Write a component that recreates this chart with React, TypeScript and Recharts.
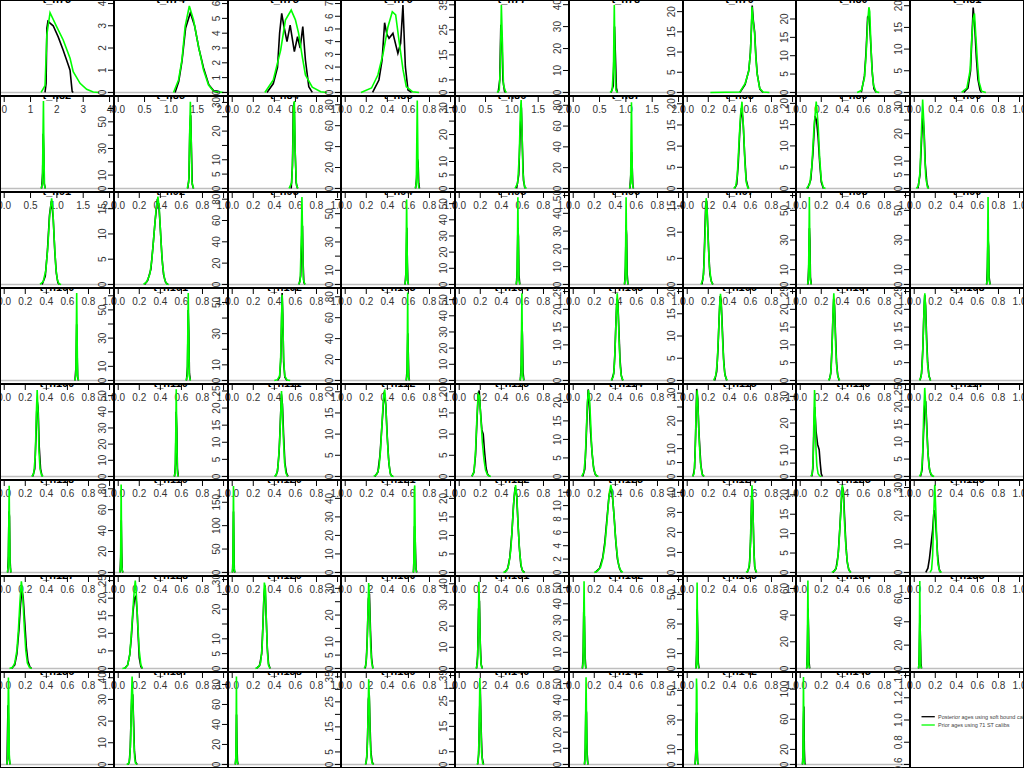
import React from 'react';
import { LineChart, Line, XAxis, YAxis, ReferenceLine } from 'recharts';

// grid of 8 x 9 density panels, each 1024/9 x 96 px
const COLS = 9;
const CELL_W = 1024 / 9;
const CELL_H = 96;
const AXIS_W = 22;
const AXIS_H = 26;
const FONT = '"Liberation Sans", Arial, Helvetica, sans-serif';
const GAP = 4.5;

const panelNames = [
  't_n73', 't_n74', 't_n75', 't_n76', 't_n77', 't_n78', 't_n79', 't_n80', 't_n81',
  't_n82', 't_n83', 't_n84', 't_n85', 't_n86', 't_n87', 't_n88', 't_n89', 't_n90',
  't_n91', 't_n92', 't_n93', 't_n94', 't_n95', 't_n96', 't_n97', 't_n98', 't_n99',
  't_n100', 't_n101', 't_n102', 't_n103', 't_n104', 't_n105', 't_n106', 't_n107', 't_n108',
  't_n109', 't_n110', 't_n111', 't_n112', 't_n113', 't_n114', 't_n115', 't_n116', 't_n117',
  't_n118', 't_n119', 't_n120', 't_n121', 't_n122', 't_n123', 't_n124', 't_n125', 't_n126',
  't_n127', 't_n128', 't_n129', 't_n130', 't_n131', 't_n132', 't_n133', 't_n134', 't_n135',
  't_n136', 't_n137', 't_n138', 't_n139', 't_n140', 't_n141', 't_n142', 't_n143',
];

// upper x limit of each panel (lower is 0)
const xUpper = [
  4, 2, 1, 1, 2, 2, 1, 1, 1,
  2, 1, 1, 1, 1, 1, 1, 1, 1,
  1, 1, 1, 1, 1, 1, 1, 1, 1,
  1, 1, 1, 1, 1, 1, 1, 1, 1,
  1, 1, 1, 1, 1, 1, 1, 1, 1,
  1, 1, 1, 1, 1, 1, 1, 1, 1,
  1, 1, 1, 1, 1, 1, 1, 1, 1,
  1, 1, 1, 1, 1, 1, 1, 1,
];

// upper y limit of each panel (lower is 0)
const yUpper = [
  4, 4, 6, 7, 35.5, 40.5, 22, 24.2, 20.5,
  57, 66.7, 31, 85, 33, 85.5, 21, 20.9, 32.5,
  16, 17.6, 83.4, 62.8, 55, 50, 17, 60, 60,
  60, 63, 57, 85, 55, 25, 20, 25, 25,
  35, 55, 26, 21, 21, 24, 32, 33.3, 25.6,
  80, 85, 190, 48, 24, 13.3, 44.4, 22.9, 31.4,
  25, 25.3, 30, 33.3, 42, 55, 60, 66.7, 76.2,
  45, 41, 88.9, 35.5, 35, 55, 60, 118,
];

const yTicks = [
  [0, 1, 2, 3, 4], [0, 1, 2, 3, 4], [0, 1, 2, 3, 4, 5, 6], [0, 1, 2, 3, 4, 5, 6, 7],
  [0, 5, 10, 15, 20, 25, 30, 35], [0, 10, 20, 30, 40], [0, 5, 10, 15, 20], [0, 5, 10, 15, 20], [0, 5, 10, 15, 20],
  [0, 10, 20, 30, 40, 50], [0, 10, 20, 30, 40, 50, 60], [0, 5, 10, 15, 20, 25, 30], [0, 20, 40, 60, 80],
  [0, 5, 10, 15, 20, 25, 30], [0, 20, 40, 60, 80], [0, 5, 10, 15, 20], [0, 5, 10, 15, 20], [0, 5, 10, 15, 20, 25, 30],
  [0, 5, 10, 15], [0, 5, 10, 15], [0, 20, 40, 60, 80], [0, 10, 20, 30, 40, 50, 60], [0, 10, 20, 30, 40, 50],
  [0, 10, 20, 30, 40, 50], [0, 5, 10, 15], [0, 10, 20, 30, 40, 50, 60], [0, 10, 20, 30, 40, 50, 60],
  [0, 10, 20, 30, 40, 50, 60], [0, 10, 20, 30, 40, 50, 60], [0, 10, 20, 30, 40, 50], [0, 20, 40, 60, 80],
  [0, 10, 20, 30, 40, 50], [0, 5, 10, 15, 20, 25], [0, 5, 10, 15, 20], [0, 5, 10, 15, 20, 25], [0, 5, 10, 15, 20, 25],
  [0, 5, 10, 15, 20, 25, 30, 35], [0, 10, 20, 30, 40, 50], [0, 5, 10, 15, 20, 25], [0, 5, 10, 15, 20],
  [0, 5, 10, 15, 20], [0, 5, 10, 15, 20], [0, 5, 10, 15, 20, 25, 30], [0, 5, 10, 15, 20, 25, 30], [0, 5, 10, 15, 20, 25],
  [0, 20, 40, 60, 80], [0, 20, 40, 60, 80], [0, 50, 100, 150], [0, 10, 20, 30, 40], [0, 5, 10, 15, 20],
  [0, 2, 4, 6, 8, 10, 12], [0, 10, 20, 30, 40], [0, 5, 10, 15, 20], [0, 10, 20, 30],
  [0, 5, 10, 15, 20, 25], [0, 5, 10, 15, 20, 25], [0, 5, 10, 15, 20, 25, 30], [0, 5, 10, 15, 20, 25, 30],
  [0, 10, 20, 30, 40], [0, 10, 20, 30, 40, 50], [0, 10, 20, 30, 40, 50, 60], [0, 20, 40, 60], [0, 20, 40, 60],
  [0, 10, 20, 30, 40], [0, 10, 20, 30, 40], [0, 20, 40, 60, 80], [0, 5, 10, 15, 20, 25, 30, 35],
  [0, 5, 10, 15, 20, 25, 30, 35], [0, 10, 20, 30, 40, 50], [0, 10, 20, 30, 40, 50, 60], [0, 20, 40, 60, 80, 100],
];

const xTicksByRange: Record<number, number[]> = {
  1: [0, 0.2, 0.4, 0.6, 0.8, 1],
  2: [0, 0.5, 1, 1.5, 2],
  4: [0, 1, 2, 3, 4],
};

// black: posterior ages (soft bound calibs)
const posterior: number[][][] = [
  [[1.55, 0], [1.59, 0.4], [1.62, 2.9], [1.66, 3.2], [1.86, 3.0], [2.05, 2.5], [2.24, 1.9], [2.43, 1.25], [2.5, 1.0], [2.55, 0.4], [2.58, 0.05], [2.62, 0]],
  [[1.08, 0], [1.15, 0.5], [1.21, 1.4], [1.28, 2.9], [1.37, 3.59], [1.45, 3.0], [1.53, 2.0], [1.62, 1.1], [1.72, 0.35], [1.82, 0.05], [1.9, 0]],
  [[0.33, 0], [0.39, 0.6], [0.43, 1.7], [0.45, 4.0], [0.47, 5.34], [0.49, 4.5], [0.52, 3.43], [0.55, 4.55], [0.59, 2.75], [0.62, 3.76], [0.645, 3.0], [0.67, 4.44], [0.695, 2.19], [0.727, 0.39], [0.76, 0]],
  [[0.26, 0], [0.32, 0.98], [0.35, 2.55], [0.374, 5.49], [0.395, 4.6], [0.416, 4.26], [0.453, 4.65], [0.5, 3.08], [0.526, 3.87], [0.548, 6.89], [0.571, 2.03], [0.596, 0.19], [0.63, 0]],
  [[0.74, 0], [0.77, 5], [0.79, 27], [0.81, 22], [0.83, 5], [0.86, 0.5], [0.88, 0]],
  [[0.72, 0], [0.76, 3], [0.785, 30], [0.8, 18], [0.82, 2], [0.84, 0]],
  [[0.5, 0], [0.55, 2.0], [0.585, 5.5], [0.6, 10], [0.61, 16], [0.617, 21.5], [0.627, 18], [0.64, 15], [0.652, 9], [0.665, 4.5], [0.69, 0.8], [0.72, 0]],
  [[0.58, 0], [0.61, 4.5], [0.625, 11], [0.64, 20.5], [0.655, 21], [0.67, 13], [0.685, 5], [0.7, 1], [0.72, 0]],
  [[0.47, 0], [0.51, 1], [0.535, 5], [0.55, 14], [0.56, 19.6], [0.575, 15], [0.59, 8], [0.605, 3], [0.625, 0.5], [0.64, 0]],
  [[0.71, 0], [0.73, 10], [0.74, 35], [0.75, 25], [0.76, 3], [0.78, 0]],
  [[0.66, 0], [0.672, 8], [0.68, 45], [0.688, 55], [0.695, 30], [0.703, 3], [0.715, 0]],
  [[0.56, 0], [0.572, 8], [0.58, 28], [0.588, 30], [0.596, 15], [0.607, 2], [0.62, 0]],
  [[0.668, 0], [0.678, 10], [0.686, 28], [0.692, 25], [0.698, 5], [0.705, 0]],
  [[0.545, 0], [0.565, 5], [0.578, 20], [0.59, 30], [0.6, 15], [0.61, 3], [0.625, 0]],
  [[0.538, 0], [0.548, 15], [0.555, 35], [0.56, 20], [0.566, 3], [0.572, 0]],
  [[0.45, 0], [0.47, 1], [0.485, 6], [0.5, 14], [0.515, 19], [0.53, 16], [0.545, 8], [0.56, 2], [0.58, 0]],
  [[0.07, 0], [0.1, 2], [0.12, 8], [0.14, 17], [0.155, 16], [0.17, 12], [0.185, 6], [0.2, 1.5], [0.22, 0]],
  [[0.035, 0], [0.055, 5], [0.07, 18], [0.082, 27], [0.095, 20], [0.105, 9], [0.12, 2], [0.135, 0]],
  [[0.36, 0], [0.39, 1.5], [0.41, 6], [0.43, 12.5], [0.448, 15], [0.465, 12], [0.48, 6], [0.495, 2], [0.51, 0.3], [0.525, 0]],
  [[0.25, 0], [0.28, 0.8], [0.31, 3], [0.33, 7.5], [0.35, 12.5], [0.37, 16.5], [0.385, 16], [0.4, 11], [0.415, 5.5], [0.43, 2], [0.45, 0.4], [0.47, 0]],
  [[0.635, 0], [0.65, 8], [0.66, 45], [0.667, 55], [0.673, 20], [0.68, 2], [0.69, 0]],
  [[0.568, 0], [0.578, 10], [0.585, 40], [0.59, 15], [0.595, 2], [0.6, 0]],
  [[0.543, 0], [0.551, 10], [0.557, 35], [0.562, 30], [0.567, 6], [0.575, 0]],
  [[0.488, 0], [0.496, 10], [0.502, 32], [0.507, 28], [0.512, 6], [0.52, 0]],
  [[0.14, 0], [0.155, 2], [0.165, 8], [0.175, 15], [0.185, 16], [0.195, 11], [0.205, 6], [0.215, 2], [0.23, 0.5], [0.245, 0]],
  [[0.073, 0], [0.081, 12], [0.087, 38], [0.092, 30], [0.097, 5], [0.105, 0]],
  [[0.688, 0], [0.695, 12], [0.7, 32], [0.706, 26], [0.711, 5], [0.72, 0]],
  [[0.672, 0], [0.682, 10], [0.688, 38], [0.694, 12], [0.698, 2], [0.705, 0]],
  [[0.648, 0], [0.658, 10], [0.664, 50], [0.67, 35], [0.676, 5], [0.685, 0]],
  [[0.43, 0], [0.45, 2], [0.46, 12], [0.468, 35], [0.474, 56], [0.48, 42], [0.488, 12], [0.5, 2], [0.52, 0]],
  [[0.58, 0], [0.588, 12], [0.594, 45], [0.599, 25], [0.604, 3], [0.61, 0]],
  [[0.58, 0], [0.589, 10], [0.595, 36], [0.6, 28], [0.606, 5], [0.614, 0]],
  [[0.365, 0], [0.385, 2], [0.395, 7], [0.405, 16], [0.415, 23], [0.424, 22], [0.434, 14], [0.444, 6], [0.456, 1.5], [0.47, 0]],
  [[0.26, 0], [0.28, 2], [0.292, 7], [0.303, 14], [0.313, 19], [0.322, 18], [0.333, 12], [0.345, 5], [0.357, 1.5], [0.375, 0]],
  [[0.275, 0], [0.29, 2], [0.3, 8], [0.31, 17], [0.318, 23], [0.326, 21], [0.335, 13], [0.345, 5], [0.356, 1.5], [0.37, 0]],
  [[0.055, 0], [0.07, 2], [0.082, 9], [0.092, 19], [0.1, 24], [0.108, 21], [0.118, 12], [0.128, 5], [0.14, 1.3], [0.155, 0]],
  [[0.27, 0], [0.29, 3], [0.302, 16], [0.312, 30], [0.322, 27], [0.332, 12], [0.345, 3], [0.36, 0]],
  [[0.535, 0], [0.544, 8], [0.55, 40], [0.556, 30], [0.562, 5], [0.57, 0]],
  [[0.41, 0], [0.43, 1.5], [0.445, 7], [0.457, 16], [0.467, 24], [0.477, 21], [0.488, 12], [0.5, 4], [0.515, 1], [0.53, 0]],
  [[0.28, 0], [0.31, 1], [0.33, 5], [0.35, 12.5], [0.37, 20], [0.385, 17], [0.4, 9], [0.415, 3], [0.43, 0.5], [0.45, 0]],
  [[0.12, 0], [0.14, 1], [0.155, 5], [0.168, 13], [0.18, 19], [0.19, 20.3], [0.2, 16], [0.215, 11], [0.228, 10], [0.24, 6], [0.255, 2], [0.27, 0.5], [0.29, 0]],
  [[0.09, 0], [0.11, 2], [0.122, 9], [0.132, 17], [0.142, 23.5], [0.152, 20], [0.165, 12], [0.18, 6], [0.195, 2], [0.21, 0.5], [0.23, 0]],
  [[0.055, 0], [0.07, 3], [0.08, 15], [0.09, 31.5], [0.1, 28], [0.11, 17], [0.12, 10], [0.13, 4], [0.145, 0.5], [0.16, 0]],
  [[0.11, 0], [0.12, 3], [0.128, 14], [0.138, 26], [0.15, 17], [0.165, 12], [0.18, 10], [0.19, 5], [0.2, 1], [0.21, 0]],
  [[0.06, 0], [0.075, 2], [0.088, 12], [0.1, 20.5], [0.11, 21], [0.12, 14], [0.13, 7], [0.145, 2], [0.16, 0.5], [0.18, 0]],
  [[0.033, 0], [0.04, 15], [0.045, 55], [0.05, 50], [0.055, 12], [0.062, 0]],
  [[0.018, 0], [0.024, 15], [0.029, 50], [0.033, 20], [0.038, 2], [0.045, 0]],
  [[0.003, 0], [0.008, 40], [0.012, 130], [0.016, 60], [0.02, 5], [0.026, 0]],
  [[0.648, 0], [0.653, 8], [0.658, 25], [0.663, 20], [0.668, 10], [0.672, 2], [0.68, 0]],
  [[0.43, 0], [0.46, 1], [0.48, 4], [0.5, 10.5], [0.515, 18], [0.53, 23], [0.545, 21], [0.557, 14], [0.57, 7], [0.585, 2], [0.6, 0.5], [0.62, 0]],
  [[0.21, 0], [0.25, 0.6], [0.28, 2.2], [0.3, 4.5], [0.32, 8], [0.34, 11.5], [0.36, 12.7], [0.375, 11], [0.39, 8], [0.405, 4.5], [0.42, 2], [0.44, 0.6], [0.46, 0]],
  [[0.57, 0], [0.59, 3], [0.602, 16], [0.612, 38], [0.622, 36], [0.632, 14], [0.64, 3], [0.655, 0]],
  [[0.31, 0], [0.34, 1], [0.36, 4.5], [0.375, 11], [0.39, 18], [0.4, 22], [0.41, 21], [0.42, 15], [0.432, 8], [0.445, 3], [0.46, 0.8], [0.48, 0]],
  [[0.11, 0], [0.13, 1.5], [0.145, 5], [0.16, 10], [0.175, 15], [0.188, 22], [0.198, 21], [0.21, 14], [0.222, 6], [0.235, 1.5], [0.25, 0]],
  [[0.07, 0], [0.1, 1], [0.12, 4], [0.14, 11], [0.155, 18], [0.168, 22], [0.18, 20], [0.195, 13], [0.21, 6], [0.225, 2], [0.245, 0.3], [0.26, 0]],
  [[0.06, 0], [0.09, 1], [0.11, 4], [0.125, 9], [0.14, 16], [0.155, 20], [0.168, 20.5], [0.18, 16], [0.19, 9], [0.2, 3], [0.215, 0.5], [0.23, 0]],
  [[0.23, 0], [0.26, 1], [0.28, 5], [0.292, 15], [0.302, 25], [0.312, 28], [0.322, 18], [0.333, 7], [0.345, 1.5], [0.36, 0]],
  [[0.19, 0], [0.2, 3], [0.21, 12], [0.22, 26], [0.23, 28], [0.24, 14], [0.25, 4], [0.262, 0]],
  [[0.165, 0], [0.175, 6], [0.184, 28], [0.192, 32], [0.2, 12], [0.208, 2], [0.22, 0]],
  [[0.088, 0], [0.095, 10], [0.1, 35], [0.106, 32], [0.112, 8], [0.12, 0]],
  [[0.083, 0], [0.089, 10], [0.095, 40], [0.1, 25], [0.105, 4], [0.112, 0]],
  [[0.062, 0], [0.068, 12], [0.074, 45], [0.079, 30], [0.084, 5], [0.09, 0]],
  [[0.042, 0], [0.048, 12], [0.054, 46], [0.059, 25], [0.064, 4], [0.07, 0]],
  [[0.027, 0], [0.031, 15], [0.036, 30], [0.042, 20], [0.047, 3], [0.055, 0]],
  [[0.09, 0], [0.105, 1], [0.115, 8], [0.122, 22], [0.13, 32], [0.138, 32], [0.146, 20], [0.154, 6], [0.165, 1], [0.18, 0]],
  [[0.03, 0], [0.036, 10], [0.041, 50], [0.045, 20], [0.05, 3], [0.056, 0]],
  [[0.195, 0], [0.205, 3], [0.213, 12], [0.22, 26], [0.228, 28], [0.236, 15], [0.244, 5], [0.255, 1], [0.27, 0]],
  [[0.175, 0], [0.185, 4], [0.193, 20], [0.2, 30], [0.208, 14], [0.217, 3], [0.23, 0]],
  [[0.108, 0], [0.115, 10], [0.12, 35], [0.126, 32], [0.131, 8], [0.14, 0]],
  [[0.075, 0], [0.081, 8], [0.086, 25], [0.09, 35], [0.095, 10], [0.1, 1], [0.107, 0]],
  [[0.022, 0], [0.027, 20], [0.031, 60], [0.035, 77], [0.039, 20], [0.044, 2], [0.05, 0]],
];

// green: prior ages (71 ST calibs)
const prior: number[][][] = [
  [[1.4, 0], [1.55, 0.3], [1.62, 2.6], [1.74, 3.59], [1.99, 2.96], [2.24, 2.36], [2.5, 1.54], [2.62, 0.93], [2.88, 0.41], [3.13, 0.14], [3.38, 0.02], [3.6, 0]],
  [[1.05, 0], [1.145, 0.56], [1.21, 1.46], [1.27, 2.96], [1.35, 3.89], [1.43, 3.26], [1.525, 2.06], [1.62, 1.01], [1.715, 0.33], [1.81, 0.05], [2.0, 0]],
  [[0.31, 0], [0.39, 0.84], [0.46, 2.86], [0.505, 4.89], [0.56, 5.56], [0.6, 4.9], [0.63, 4.0], [0.665, 2.41], [0.695, 1.18], [0.76, 0.35], [0.84, 0.05], [0.9, 0]],
  [[0.15, 0], [0.25, 0.35], [0.31, 1.37], [0.36, 3.08], [0.406, 5.18], [0.447, 6.36], [0.479, 6.1], [0.51, 4.13], [0.549, 1.77], [0.58, 0.45], [0.64, 0.05], [0.7, 0]],
  [[0.72, 0], [0.76, 1], [0.78, 10], [0.8, 34.9], [0.82, 20], [0.84, 3], [0.88, 0.3], [0.9, 0]],
  [[0.7, 0], [0.74, 1], [0.765, 12], [0.78, 39.8], [0.795, 12], [0.81, 1], [0.84, 0]],
  [[0.22, 0], [0.5, 0.1], [0.55, 2.25], [0.583, 5.1], [0.6, 9.7], [0.608, 15], [0.615, 21.2], [0.625, 17.9], [0.64, 14.6], [0.65, 9.3], [0.663, 4.7], [0.688, 1.0], [0.72, 0.1], [0.78, 0]],
  [[0.54, 0], [0.58, 0.5], [0.61, 4], [0.625, 10], [0.64, 19], [0.652, 23.2], [0.66, 22], [0.67, 14], [0.68, 7], [0.695, 2], [0.72, 0.2], [0.75, 0]],
  [[0.45, 0], [0.5, 1], [0.53, 5], [0.545, 12], [0.56, 17], [0.572, 18.2], [0.585, 13], [0.6, 7], [0.615, 2.5], [0.64, 0.3], [0.68, 0]],
  [[0.7, 0], [0.725, 3], [0.735, 30], [0.745, 56], [0.755, 20], [0.765, 2], [0.78, 0]],
  [[0.655, 0], [0.67, 5], [0.678, 40], [0.685, 65], [0.692, 40], [0.7, 5], [0.715, 0]],
  [[0.54, 0], [0.565, 2], [0.575, 12], [0.582, 28], [0.59, 30.5], [0.598, 12], [0.61, 1], [0.625, 0]],
  [[0.665, 0], [0.675, 5], [0.68, 50], [0.684, 84], [0.688, 50], [0.693, 5], [0.7, 0]],
  [[0.53, 0], [0.555, 2], [0.57, 12], [0.58, 28], [0.588, 32.8], [0.596, 22], [0.605, 6], [0.62, 0.5], [0.64, 0]],
  [[0.535, 0], [0.545, 5], [0.549, 50], [0.553, 83], [0.557, 50], [0.562, 5], [0.57, 0]],
  [[0.44, 0], [0.46, 0.5], [0.475, 3], [0.49, 10], [0.505, 17], [0.52, 20.5], [0.535, 14], [0.548, 6], [0.56, 1.5], [0.575, 0.2], [0.59, 0]],
  [[0.06, 0], [0.09, 1], [0.11, 5], [0.13, 14], [0.152, 20.4], [0.17, 15], [0.185, 7], [0.2, 2], [0.22, 0.2], [0.24, 0]],
  [[0.02, 0], [0.04, 1], [0.055, 6], [0.07, 22], [0.08, 32.5], [0.09, 25], [0.1, 12], [0.11, 4], [0.125, 0.5], [0.14, 0]],
  [[0.34, 0], [0.37, 0.5], [0.395, 2.5], [0.415, 7], [0.43, 12], [0.45, 15.5], [0.46, 14], [0.475, 8], [0.49, 3], [0.505, 0.8], [0.52, 0.1], [0.54, 0]],
  [[0.24, 0], [0.27, 0.5], [0.3, 2], [0.32, 5], [0.34, 10], [0.36, 15], [0.377, 17.4], [0.39, 15], [0.405, 9], [0.42, 4], [0.44, 1], [0.46, 0.1], [0.48, 0]],
  [[0.63, 0], [0.645, 3], [0.655, 40], [0.662, 82], [0.668, 45], [0.675, 5], [0.69, 0]],
  [[0.565, 0], [0.575, 3], [0.579, 30], [0.583, 60], [0.587, 30], [0.592, 3], [0.6, 0]],
  [[0.54, 0], [0.548, 3], [0.553, 25], [0.557, 54], [0.561, 25], [0.566, 3], [0.575, 0]],
  [[0.485, 0], [0.493, 3], [0.498, 24], [0.502, 49], [0.506, 24], [0.511, 3], [0.52, 0]],
  [[0.13, 0], [0.15, 1], [0.16, 4], [0.17, 10], [0.18, 16.5], [0.19, 14], [0.2, 8], [0.21, 3.5], [0.225, 1], [0.24, 0]],
  [[0.07, 0], [0.078, 3], [0.083, 28], [0.087, 59], [0.091, 28], [0.096, 3], [0.105, 0]],
  [[0.685, 0], [0.693, 3], [0.697, 28], [0.701, 59], [0.705, 28], [0.71, 3], [0.72, 0]],
  [[0.67, 0], [0.68, 3], [0.684, 30], [0.688, 59], [0.692, 30], [0.697, 3], [0.705, 0]],
  [[0.645, 0], [0.655, 3], [0.66, 30], [0.665, 62], [0.67, 30], [0.675, 3], [0.685, 0]],
  [[0.4, 0], [0.43, 0.5], [0.45, 3], [0.46, 15], [0.468, 40], [0.474, 55], [0.48, 40], [0.488, 15], [0.498, 3], [0.52, 0.3], [0.55, 0]],
  [[0.578, 0], [0.586, 4], [0.59, 40], [0.593, 84], [0.596, 40], [0.6, 4], [0.608, 0]],
  [[0.578, 0], [0.586, 3], [0.591, 26], [0.595, 54], [0.599, 26], [0.604, 3], [0.612, 0]],
  [[0.36, 0], [0.38, 1], [0.39, 4], [0.4, 11], [0.41, 20], [0.418, 24.5], [0.426, 20], [0.436, 11], [0.446, 4], [0.458, 1], [0.475, 0]],
  [[0.25, 0], [0.27, 1], [0.285, 4], [0.298, 11], [0.308, 17], [0.316, 19.5], [0.325, 16], [0.336, 9], [0.348, 3.5], [0.36, 1], [0.38, 0]],
  [[0.27, 0], [0.285, 1], [0.295, 4], [0.305, 12], [0.312, 20], [0.319, 24.5], [0.327, 19], [0.336, 10], [0.346, 4], [0.358, 1], [0.375, 0]],
  [[0.05, 0], [0.065, 1], [0.077, 5], [0.087, 14], [0.095, 22], [0.101, 24.5], [0.108, 20], [0.117, 11], [0.127, 4.5], [0.14, 1.2], [0.155, 0]],
  [[0.26, 0], [0.28, 1], [0.295, 8], [0.305, 25], [0.313, 34], [0.322, 25], [0.33, 10], [0.34, 3], [0.355, 0.5], [0.37, 0]],
  [[0.53, 0], [0.54, 2], [0.546, 25], [0.551, 54], [0.556, 25], [0.562, 2], [0.57, 0]],
  [[0.4, 0], [0.42, 0.5], [0.435, 3], [0.45, 10], [0.46, 18], [0.468, 25], [0.476, 20], [0.486, 11], [0.497, 4], [0.51, 1], [0.525, 0]],
  [[0.27, 0], [0.3, 0.5], [0.32, 2], [0.335, 6], [0.35, 13], [0.365, 19], [0.375, 20.5], [0.385, 17], [0.395, 11], [0.41, 4.5], [0.425, 1], [0.44, 0.1], [0.46, 0]],
  [[0.12, 0], [0.14, 1], [0.155, 6], [0.168, 14], [0.18, 19.5], [0.192, 19], [0.205, 14], [0.22, 8], [0.235, 4], [0.25, 1.5], [0.27, 0.3], [0.3, 0]],
  [[0.08, 0], [0.1, 1], [0.115, 5], [0.125, 13], [0.135, 20], [0.145, 23.3], [0.155, 21], [0.165, 15], [0.175, 8], [0.19, 3], [0.205, 1], [0.22, 0.2], [0.24, 0]],
  [[0.05, 0], [0.065, 1], [0.075, 8], [0.085, 25], [0.095, 31], [0.105, 22], [0.115, 12], [0.125, 5], [0.14, 1], [0.16, 0]],
  [[0.1, 0], [0.115, 1], [0.122, 6], [0.128, 18], [0.136, 32.4], [0.143, 22], [0.15, 10], [0.158, 4], [0.17, 1], [0.185, 0.2], [0.2, 0]],
  [[0.05, 0], [0.068, 1], [0.08, 6], [0.09, 18], [0.1, 25.5], [0.11, 20], [0.12, 13], [0.13, 7], [0.14, 3], [0.155, 1], [0.17, 0.2], [0.19, 0]],
  [[0.03, 0], [0.038, 5], [0.043, 40], [0.047, 78], [0.051, 40], [0.056, 5], [0.065, 0]],
  [[0.015, 0], [0.022, 5], [0.025, 40], [0.028, 84], [0.031, 40], [0.035, 5], [0.042, 0]],
  [[0, 0], [0.006, 10], [0.009, 100], [0.012, 185], [0.015, 100], [0.018, 10], [0.025, 0]],
  [[0.645, 0], [0.65, 2], [0.654, 15], [0.657, 45], [0.66, 47], [0.663, 30], [0.667, 5], [0.675, 0]],
  [[0.42, 0], [0.45, 0.5], [0.47, 2], [0.49, 6], [0.505, 13], [0.52, 20], [0.535, 23.6], [0.548, 20], [0.56, 12], [0.575, 5], [0.59, 1.5], [0.605, 0.2], [0.62, 0]],
  [[0.2, 0], [0.23, 0.2], [0.26, 0.8], [0.28, 2], [0.3, 4], [0.32, 7.5], [0.34, 11.5], [0.357, 13.1], [0.37, 12], [0.385, 9], [0.4, 5.5], [0.415, 3], [0.43, 1.2], [0.45, 0.3], [0.47, 0]],
  [[0.56, 0], [0.58, 1], [0.595, 6], [0.605, 25], [0.615, 43.6], [0.625, 28], [0.635, 8], [0.645, 1.5], [0.66, 0]],
  [[0.3, 0], [0.33, 0.5], [0.35, 2], [0.365, 6], [0.38, 13], [0.39, 19], [0.4, 22.5], [0.41, 20], [0.42, 13], [0.435, 6], [0.45, 2], [0.465, 0.5], [0.48, 0]],
  [[0.15, 0], [0.165, 1], [0.175, 6], [0.185, 20], [0.195, 31], [0.205, 22], [0.215, 10], [0.225, 3], [0.24, 0.5], [0.26, 0]],
  [[0.05, 0], [0.08, 0.3], [0.1, 1.5], [0.12, 5], [0.135, 11], [0.15, 19], [0.163, 24.5], [0.175, 21], [0.19, 12], [0.205, 5], [0.22, 1.5], [0.24, 0.3], [0.26, 0]],
  [[0.04, 0], [0.07, 0.2], [0.09, 1], [0.11, 4], [0.125, 10], [0.14, 17], [0.152, 22], [0.162, 25], [0.172, 21], [0.185, 13], [0.2, 5], [0.215, 1], [0.23, 0]],
  [[0.22, 0], [0.25, 0.5], [0.27, 2], [0.285, 8], [0.295, 18], [0.305, 29], [0.315, 27], [0.325, 15], [0.335, 5], [0.345, 1], [0.36, 0]],
  [[0.18, 0], [0.195, 1], [0.205, 6], [0.215, 20], [0.223, 32], [0.232, 22], [0.242, 8], [0.252, 2], [0.265, 0]],
  [[0.16, 0], [0.172, 2], [0.18, 15], [0.187, 41], [0.194, 25], [0.202, 6], [0.21, 1], [0.22, 0]],
  [[0.085, 0], [0.093, 3], [0.098, 25], [0.103, 54], [0.108, 25], [0.113, 3], [0.12, 0]],
  [[0.08, 0], [0.087, 3], [0.09, 25], [0.094, 58], [0.098, 25], [0.102, 3], [0.11, 0]],
  [[0.06, 0], [0.065, 3], [0.069, 30], [0.073, 66], [0.077, 30], [0.081, 3], [0.088, 0]],
  [[0.04, 0], [0.045, 3], [0.049, 30], [0.053, 75], [0.057, 30], [0.061, 3], [0.068, 0]],
  [[0.025, 0], [0.032, 3], [0.036, 25], [0.04, 44], [0.044, 30], [0.048, 5], [0.055, 0]],
  [[0.08, 0], [0.1, 0.5], [0.11, 3], [0.118, 12], [0.125, 30], [0.132, 40.5], [0.14, 28], [0.148, 12], [0.156, 3], [0.165, 0.5], [0.18, 0]],
  [[0.028, 0], [0.034, 4], [0.037, 30], [0.04, 88], [0.043, 30], [0.046, 4], [0.053, 0]],
  [[0.19, 0], [0.2, 1], [0.21, 7], [0.217, 20], [0.223, 34], [0.23, 25], [0.237, 10], [0.245, 3], [0.255, 0.5], [0.27, 0]],
  [[0.17, 0], [0.18, 1], [0.188, 10], [0.196, 34], [0.204, 20], [0.212, 5], [0.222, 0.5], [0.235, 0]],
  [[0.105, 0], [0.112, 3], [0.117, 25], [0.122, 54], [0.127, 25], [0.132, 3], [0.14, 0]],
  [[0.072, 0], [0.08, 3], [0.084, 20], [0.088, 58], [0.092, 50], [0.096, 5], [0.103, 0]],
  [[0.02, 0], [0.025, 5], [0.028, 50], [0.031, 116], [0.034, 60], [0.037, 5], [0.045, 0]],
];

const legendItems = [
  { label: 'Posterior ages using soft bound calibs', color: '#000000' },
  { label: 'Prior ages using 71 ST calibs', color: '#00ff00' },
];
const legendYTicks = [0.6, 0.8, 1.0, 1.2, 1.4];

const textWidth = (s: string) => s.split('').reduce((w, c) => w + (c === '.' ? 2.78 : 5.56), 0);

// drop labels that would collide with the previous drawn one, like base R axis()
function visibleLabels(values: number[], labels: string[], pxPerUnit: number) {
  const out: boolean[] = [];
  let last = -1;
  values.forEach((v, i) => {
    if (last < 0) {
      out.push(true);
      last = i;
      return;
    }
    const d = Math.abs(v - values[last]) * pxPerUnit;
    const need = textWidth(labels[last]) / 2 + textWidth(labels[i]) / 2 + GAP;
    if (d >= need) {
      out.push(true);
      last = i;
    } else out.push(false);
  });
  return out;
}

const makeXTick = (vals: number[], labels: string[], show: boolean[]) => (props: any) => {
  const { x, y, payload } = props;
  const i = vals.indexOf(payload.value);
  return (
    <g>
      <line x1={x} x2={x} y1={y} y2={y + 6} stroke="#000" strokeWidth={1} />
      {i >= 0 && show[i] && (
        <text x={x} y={y + 17.5} textAnchor="middle" fontSize={10} fontFamily={FONT} fill="#333">
          {labels[i]}
        </text>
      )}
    </g>
  );
};

const makeYTick = (vals: number[], labels: string[], show: boolean[]) => (props: any) => {
  const { x, y, payload } = props;
  const i = vals.indexOf(payload.value);
  const bx = x - 8.4;
  return (
    <g>
      <line x1={x} x2={x - 6} y1={y} y2={y} stroke="#000" strokeWidth={1} />
      {i >= 0 && show[i] && (
        <text x={bx} y={y} transform={`rotate(-90 ${bx} ${y})`} textAnchor="middle" fontSize={10} fontFamily={FONT} fill="#333">
          {labels[i]}
        </text>
      )}
    </g>
  );
};

function Frame({ left, top }: { left: number; top: number }) {
  return (
    <div
      style={{
        position: 'absolute',
        left: left - 1,
        top: top - 1,
        width: CELL_W + 2,
        height: CELL_H + 2,
        border: '2px solid #000',
        boxSizing: 'border-box',
      }}
    />
  );
}

function Title({ left, top, text }: { left: number; top: number; text: string }) {
  return (
    <div style={{ position: 'absolute', left, top, width: CELL_W, height: 6, overflow: 'hidden' }}>
      <div
        style={{
          position: 'absolute',
          left: 0,
          top: -6.2,
          width: '100%',
          textAlign: 'center',
          fontFamily: FONT,
          fontWeight: 'bold',
          fontSize: 11,
          lineHeight: '11px',
          whiteSpace: 'nowrap',
          color: '#000',
        }}
      >
        {text}
      </div>
    </div>
  );
}

function Panel({ i }: { i: number }) {
  const col = i % COLS;
  const row = Math.floor(i / COLS);
  const left = col * CELL_W;
  const top = row * CELL_H;
  const xr = xUpper[i];
  const yr = yUpper[i];
  const xt = xTicksByRange[xr];
  const xl = xt.map((v) => (xr === 4 ? String(v) : v.toFixed(1)));
  const yt = yTicks[i];
  const yl = yt.map((v) => String(v));
  const xShow = visibleLabels(xt, xl, CELL_W / (1.08 * xr));
  const yShow = visibleLabels(yt, yl, CELL_H / (1.08 * yr));
  const post = posterior[i].map(([x, y]) => ({ x, y }));
  const pri = prior[i].map(([x, y]) => ({ x, y }));

  return (
    <>
      <div style={{ position: 'absolute', left: left - AXIS_W, top }}>
        <LineChart width={CELL_W + AXIS_W} height={CELL_H + AXIS_H} margin={{ top: 0, right: 0, bottom: 0, left: 0 }}>
          <XAxis
            type="number"
            dataKey="x"
            domain={[-0.04 * xr, 1.04 * xr]}
            ticks={xt}
            interval={0}
            allowDataOverflow
            height={AXIS_H}
            tickSize={0}
            tickMargin={0}
            axisLine={false}
            tickLine={false}
            tick={makeXTick(xt, xl, xShow)}
          />
          <YAxis
            type="number"
            domain={[-0.04 * yr, 1.04 * yr]}
            ticks={yt}
            interval={0}
            allowDataOverflow
            width={AXIS_W}
            tickSize={0}
            tickMargin={0}
            axisLine={false}
            tickLine={false}
            tick={makeYTick(yt, yl, yShow)}
          />
          <ReferenceLine y={0} stroke="#bebebe" strokeWidth={1.5} />
          <Line data={post} dataKey="y" type="linear" stroke="#000000" strokeWidth={1.6} dot={false} isAnimationActive={false} />
          <Line data={pri} dataKey="y" type="linear" stroke="#00ff00" strokeWidth={1.6} dot={false} isAnimationActive={false} />
        </LineChart>
      </div>
      <Frame left={left} top={top} />
      <Title left={left} top={top} text={panelNames[i]} />
    </>
  );
}

function LegendPanel() {
  const i = panelNames.length;
  const left = (i % COLS) * CELL_W;
  const top = Math.floor(i / COLS) * CELL_H;
  const yl = legendYTicks.map((v) => v.toFixed(1));
  const yShow = visibleLabels(legendYTicks, yl, CELL_H / 0.864);
  return (
    <>
      <div style={{ position: 'absolute', left: left - AXIS_W, top }}>
        <LineChart width={CELL_W + AXIS_W} height={CELL_H + AXIS_H} margin={{ top: 0, right: 0, bottom: 0, left: 0 }}>
          <XAxis type="number" dataKey="x" domain={[0.568, 1.432]} ticks={legendYTicks} height={AXIS_H} tick={false} axisLine={false} tickLine={false} />
          <YAxis
            type="number"
            domain={[0.568, 1.432]}
            ticks={legendYTicks}
            interval={0}
            allowDataOverflow
            width={AXIS_W}
            tickSize={0}
            tickMargin={0}
            axisLine={false}
            tickLine={false}
            tick={makeYTick(legendYTicks, yl, yShow)}
          />
        </LineChart>
      </div>
      <svg style={{ position: 'absolute', left, top, overflow: 'hidden' }} width={CELL_W} height={CELL_H}>
        {legendItems.map((it, k) => (
          <g key={it.label}>
            <line x1={11.5} x2={24.8} y1={44.7 + k * 8.3} y2={44.7 + k * 8.3} stroke={it.color} strokeWidth={1.3} />
            <text x={28} y={46.6 + k * 8.3} fontSize={5.5} fontFamily={FONT} fill="#444">
              {it.label}
            </text>
          </g>
        ))}
      </svg>
      <Frame left={left} top={top} />
    </>
  );
}

export default function App() {
  return (
    <div style={{ position: 'fixed', left: 0, top: 0, width: 1024, height: 768, background: '#fff', overflow: 'hidden' }}>
      {panelNames.map((_, i) => (
        <Panel key={panelNames[i]} i={i} />
      ))}
      <LegendPanel />
    </div>
  );
}
